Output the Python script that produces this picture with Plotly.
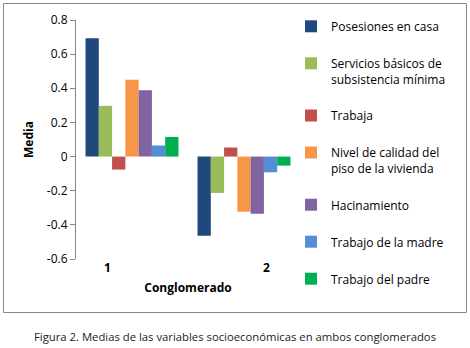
import plotly.graph_objects as go

categories = ["1", "2"]
series_names = [
    "Posesiones en casa",
    "Servicios básicos de<br>subsistencia mínima",
    "Trabaja",
    "Nivel de calidad del<br>piso de la vivienda",
    "Hacinamiento",
    "Trabajo de la madre",
    "Trabajo del padre",
]
posesiones = [0.693, -0.464]
servicios = [0.297, -0.213]
trabaja = [-0.076, 0.053]
nivel_piso = [0.450, -0.323]
hacinamiento = [0.389, -0.335]
trabajo_madre = [0.065, -0.092]
trabajo_padre = [0.115, -0.053]
series_values = [posesiones, servicios, trabaja, nivel_piso, hacinamiento, trabajo_madre, trabajo_padre]
colors = ["#1F497D", "#9BBB59", "#C0504D", "#F79646", "#8064A2", "#558ED5", "#00B050"]
y_ticks = [-0.6, -0.4, -0.2, 0, 0.2, 0.4, 0.6, 0.8]
y_ticktext = ["-0.6", "-0.4", "-0.2", "0", "0.2", "0.4", "0.6", "0.8"]

x_pos = [i + 1 for i in range(len(categories))]
label_offsets = [-0.22, 0.2]

fig = go.Figure()
for i, (name, vals, col) in enumerate(zip(series_names, series_values, colors)):
    fig.add_trace(go.Bar(x=x_pos, y=vals, name=name, marker_color=col,
                         marker_line_width=0, legendgroup=f"g{i}"))

W, H = 470, 348
ml, mr, mt, mb = 76, 170, 20, 89
pw, ph = W - ml - mr, H - mt - mb

def px_x(p):
    return (p - ml) / pw

def px_y(p):
    return (H - mb - p) / ph

font = "Open Sans"
fig.update_layout(
    width=W, height=H,
    margin=dict(l=ml, r=mr, t=mt, b=mb, autoexpand=False),
    paper_bgcolor="white", plot_bgcolor="white",
    barmode="group", bargap=0.17, bargroupgap=0,
    font=dict(family=font, size=11, color="black"),
    showlegend=True,
    legend=dict(x=px_x(291), y=px_y(12), xanchor="left", yanchor="top",
                traceorder="grouped", tracegroupgap=18, valign="top",
                itemwidth=30, maxheight=1,
                font=dict(family=font, size=12, color="black"),
                bgcolor="rgba(0,0,0,0)"),
    xaxis=dict(range=[0.5, 2.5], tickvals=[x + o for x, o in zip(x_pos, label_offsets)],
               ticktext=categories, showline=False, showgrid=False, zeroline=False,
               automargin=False,
               ticks="", tickfont=dict(family=font, size=12, color="black", weight="bold"),
               title=dict(text="<b>Conglomerado</b>", standoff=8,
                          font=dict(family=font, size=12, color="black"))),
    yaxis=dict(range=[-0.6, 0.8], tickvals=y_ticks, ticktext=y_ticktext,
               showline=True, linecolor="#868686", linewidth=1,
               ticks="outside", ticklen=5, tickcolor="#868686",
               showgrid=False, zeroline=False, automargin=False,
               tickfont=dict(family=font, size=12, color="black"),
               title=dict(text="<b>Media</b>", standoff=10,
                          font=dict(family=font, size=12, color="black"))),
    shapes=[dict(type="rect", xref="paper", yref="paper",
                 x0=px_x(3.5), x1=px_x(466.5), y0=px_y(312.5), y1=px_y(3.5),
                 line=dict(color="#878787", width=1), fillcolor="rgba(0,0,0,0)",
                 layer="below")],
    annotations=[dict(text="Figura 2. Medias de las variables socioeconómicas en ambos conglomerados",
                      xref="paper", yref="paper", x=px_x(235), y=px_y(336),
                      xanchor="center", yanchor="middle", showarrow=False,
                      font=dict(family=font, size=11.3, color="#222222"))],
)

fig.write_html("out.html", config={"displayModeBar": False},
               post_script="document.body.style.margin='0';")
